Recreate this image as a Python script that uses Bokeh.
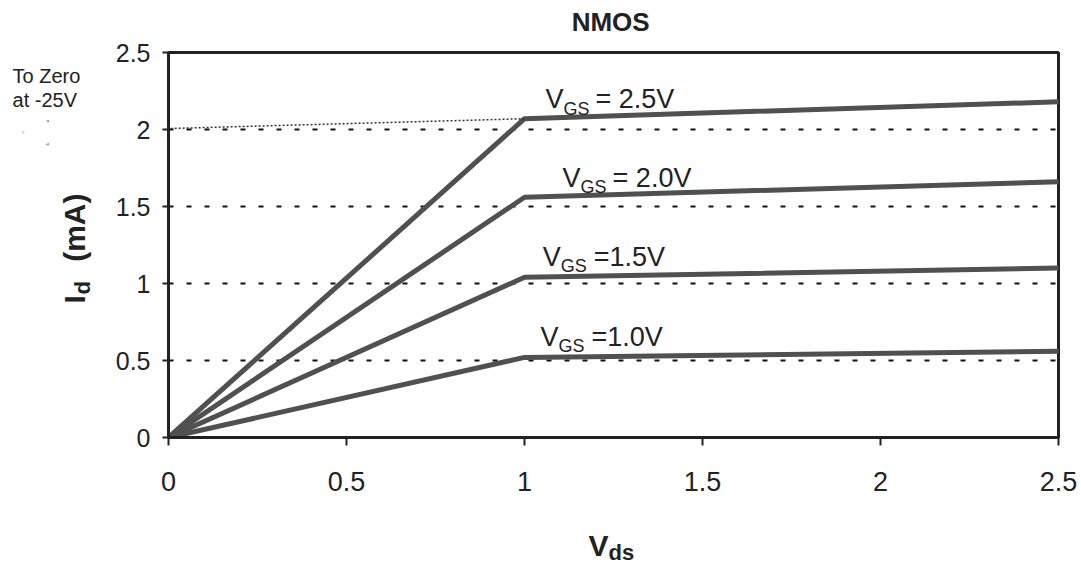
import math
from bokeh.plotting import figure
from bokeh.models import Range1d, FixedTicker, Label, Arrow, OpenHead
from bokeh.embed import file_html
from bokeh.resources import INLINE

# ---- data ----
vds = [0.0, 1.0, 2.5]
id_vgs25 = [0.0, 2.07, 2.18]
id_vgs20 = [0.0, 1.56, 1.66]
id_vgs15 = [0.0, 1.04, 1.10]
id_vgs10 = [0.0, 0.52, 0.56]
curves = [id_vgs25, id_vgs20, id_vgs15, id_vgs10]

x_ticks = [0, 0.5, 1, 1.5, 2, 2.5]
x_tick_labels = ["0", "0.5", "1", "1.5", "2", "2.5"]
y_ticks = [0, 0.5, 1, 1.5, 2, 2.5]
y_tick_labels = ["0", "0.5", "1", "1.5", "2", "2.5"]
grid_levels = [0.5, 1, 1.5, 2]

vgs_suffix = ["= 2.5V", "= 2.0V", "=1.5V", "=1.0V"]
vgs_label_x = [1.059, 1.107, 1.051, 1.045]
vgs_label_y = [2.13, 1.62, 1.11, 0.59]
vgs_suffix_off = [50, 50, 51, 51]

arrow_tip = (-0.41, 1.98)
head_dx, head_dy = 0.073, 0.078   # arrow-head arm extent (26 px long, 12 px half-width)
FONT = "Liberation Sans"
TXT = "#222222"
NB = "\u00a0"
BASE_FIX = 0.37   # label baseline correction, in em

p = figure(width=1081, height=565, output_backend="svg", toolbar_location=None,
           x_range=Range1d(0, 2.5), y_range=Range1d(0, 2.5),
           min_border_left=168, min_border_right=23, min_border_top=52,
           min_border_bottom=128)
p.background_fill_color = "white"
p.border_fill_color = "white"
p.outline_line_color = "#222222"
p.outline_line_width = 3

for ax in (p.xaxis, p.yaxis):
    ax.axis_line_color = "#222222"
    ax.axis_line_width = 3
    ax.major_tick_line_color = "#222222"
    ax.major_tick_line_width = 2
    ax.minor_tick_line_color = None
    ax.major_tick_in = 0
    ax.major_label_text_font = FONT
    ax.major_label_text_color = TXT

p.xaxis.ticker = FixedTicker(ticks=x_ticks)
p.xaxis.major_label_overrides = {t: l for t, l in zip(x_ticks, x_tick_labels)}
p.xaxis.major_tick_out = 8
p.xaxis.major_label_standoff = 26
p.xaxis.major_label_text_font_size = "27px"

p.yaxis.ticker = FixedTicker(ticks=y_ticks)
p.yaxis.major_label_overrides = {t: l for t, l in zip(y_ticks, y_tick_labels)}
p.yaxis.major_tick_out = 6
p.yaxis.major_label_standoff = 12
p.yaxis.major_label_text_font_size = "25px"

p.xgrid.visible = False
p.ygrid.ticker = FixedTicker(ticks=grid_levels)
p.ygrid.grid_line_color = "#111111"
p.ygrid.grid_line_width = 2.2
p.ygrid.grid_line_dash = "5 13"

for ys in curves:
    p.line(vds, ys, line_color="#505050", line_width=5, line_join="round", line_cap="round")

# extrapolation line with open arrow head
p.add_layout(Arrow(x_start=vds[1], y_start=id_vgs25[1], x_end=arrow_tip[0], y_end=arrow_tip[1],
                   line_color="#333333", line_width=1.5, line_dash="2 2",
                   end=OpenHead(size=26, line_color="#333333", line_width=2)), "left")
for sgn in (1, -1):
    p.add_layout(Arrow(x_start=arrow_tip[0], y_start=arrow_tip[1],
                       x_end=arrow_tip[0] + head_dx, y_end=arrow_tip[1] + sgn * head_dy,
                       line_color="#333333", line_width=2,
                       end=OpenHead(size=26, line_alpha=0.0)), "left")

def lab(text, x, y, size, bold=False, xo=0, yo=0, angle=0.0, align="left", place="center"):
    fix = BASE_FIX * size
    if angle == 0.0:
        yo = yo + fix
    else:
        xo = xo - fix
    p.add_layout(Label(x=x, y=y, text=text, x_offset=xo, y_offset=yo, angle=angle,
                       text_font=FONT, text_font_size=f"{size}px", text_color=TXT,
                       text_font_style="bold" if bold else "normal",
                       text_align=align, text_baseline="alphabetic"), place)

# curve labels (inside the frame)
for suf, lx, ly, so in zip(vgs_suffix, vgs_label_x, vgs_label_y, vgs_suffix_off):
    lab("V", lx, ly, 27)
    lab("GS", lx, ly, 18, xo=18, yo=-6)
    lab(suf, lx, ly, 27, xo=so)

# texts outside the frame live in side panels
lab("NMOS", 1.242, 2.636, 26, bold=True, align="center", place="above")
lab("To Zero", -0.438, 2.299, 20, place="below")
lab("at -25V", -0.438, 2.143, 20, place="below")
lab("I" + NB * 4 + "(mA)", -0.233, 0.87, 30, bold=True, angle=math.pi / 2, place="left")
lab("d", -0.233, 0.87, 22, bold=True, xo=5, yo=9, angle=math.pi / 2, place="left")
lab("V", 1.18, -0.773, 30, bold=True, place="left")
lab("ds", 1.18, -0.773, 22, bold=True, xo=20, yo=-4, place="left")

open("out.html", "w").write(file_html(p, INLINE))
